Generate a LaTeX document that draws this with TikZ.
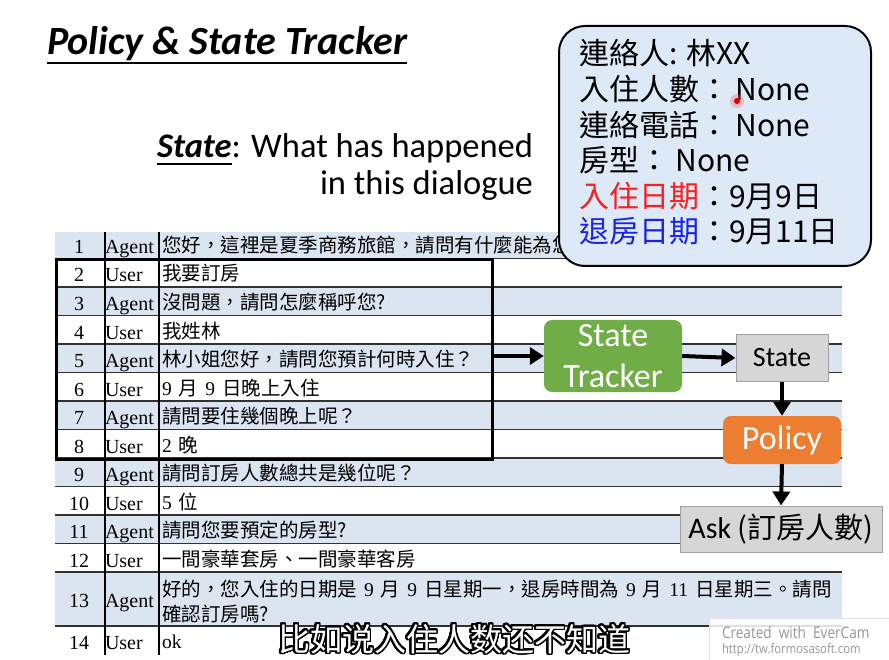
\documentclass[tikz,border=0pt]{standalone}
\usepackage{fontspec}
\setmainfont{Liberation Serif}
\newfontfamily\calibri{Carlito}
\newfontfamily\cjk{Noto Sans CJK TC}
\newfontfamily\cjksc{Noto Sans CJK SC}
\newfontfamily\wmfont{Open Sans}
\usepackage[copies]{contour}
\usetikzlibrary{arrows.meta,calc}

\definecolor{rowblue}{RGB}{219,229,241}
\definecolor{infoblue}{RGB}{221,233,246}
\definecolor{trackgreen}{RGB}{112,173,71}
\definecolor{polorange}{RGB}{237,125,49}
\definecolor{boxgray}{RGB}{214,214,214}
\definecolor{boxedge}{RGB}{160,160,160}
\definecolor{gridline}{RGB}{50,50,50}
\definecolor{slotred}{RGB}{250,30,30}
\definecolor{slotblue}{RGB}{25,35,225}
\definecolor{wmgray}{RGB}{150,150,150}

\newcommand\fsz[2]{\fontsize{#1pt}{#2pt}\selectfont}
\newcommand\lat[1]{{\rmfamily #1}}
\newcommand\gap{\hspace{7pt}}

% one dialogue row: number, bottom edge, speaker, utterance
\newcommand\tablerow[4]{%
  \node[numtxt] (num#1) at (79,{#2-5}) {#1};
  \node[roletxt] (role#1) at (105,{#2-5}) {#3};
  \node[celltxt] (cell#1) at (162,{#2-6}) {#4};}

\contourlength{1.8pt}
\contournumber{32}

\begin{document}
\begin{tikzpicture}[x=1pt, y=-1pt,
  textnode/.style={inner sep=0pt, outer sep=0pt},
  numtxt/.style={textnode, anchor=base, font=\rmfamily\fsz{20}{24}},
  roletxt/.style={textnode, anchor=base west, font=\rmfamily\fsz{20}{24}},
  celltxt/.style={textnode, anchor=base west, font=\cjk\fsz{19.5}{24}},
  infotxt/.style={textnode, anchor=base west, font=\cjk\fsz{30}{34}},
  flow/.style={line width=4pt, -{Triangle[length=14pt,width=17pt]}},
  grayblock/.style={draw=boxedge, line width=1pt, fill=boxgray, inner sep=0pt,
    font=\calibri\fsz{28}{32}},
  colorblock/.style={rounded corners=8pt, inner sep=0pt, text=white,
    font=\calibri\fsz{34}{41}, align=center}]

\useasboundingbox (0,0) rectangle (889,660);
\fill[white] (0,0) rectangle (889,660);

% ---------- heading ----------
\node[textnode, anchor=base west, font=\calibri\bfseries\itshape\fsz{40}{44}] (title) at (47,55) {Policy \& State Tracker};
\draw[line width=1.4pt] ($(title.base west)+(0,8)$) -- ($(title.base east)+(0,8)$);

\node[textnode, anchor=base east, font=\calibri\fsz{34.5}{40}] (def1) at (533,158) {: What has happened};
\node[textnode, anchor=base east, font=\calibri\bfseries\itshape\fsz{34.5}{40}] (defkey) at (def1.base west) {State};
\draw[line width=1.4pt] ($(defkey.base west)+(0,6)$) -- ($(defkey.base east)+(0,6)$);
\node[textnode, anchor=base east, font=\calibri\fsz{34.5}{40}] (def2) at (533,195) {in this dialogue};

% ---------- dialogue table ----------
\foreach \t/\b in {232/258.5, 287/315.5, 344/372.5, 401/429.5, 458/486.5, 515/543.5, 572/626}
  \fill[rowblue] (55,\t) rectangle (842,\b);
\foreach \y in {258.5, 287, 315.5, 344, 372.5, 401, 429.5, 458, 486.5, 515, 543.5, 572, 626}
  \draw[gridline, line width=1.2pt] (55,\y) -- (842,\y);
\foreach \x in {105, 159}
  \draw[black, line width=1.3pt] (\x,232) -- (\x,655);

\tablerow{1}{258.5}{Agent}{您好，這裡是夏季商務旅館，請問有什麼能為您}
\tablerow{2}{287}{User}{我要訂房}
\tablerow{3}{315.5}{Agent}{沒問題，請問怎麼稱呼您?}
\tablerow{4}{344}{User}{我姓林}
\tablerow{5}{372.5}{Agent}{林小姐您好，請問您預計何時入住？}
\tablerow{6}{401}{User}{\lat{9}\gap 月\gap\lat{9}\gap 日晚上入住}
\tablerow{7}{429.5}{Agent}{請問要住幾個晚上呢？}
\tablerow{8}{458}{User}{\lat{2}\gap 晚}
\tablerow{9}{486.5}{Agent}{請問訂房人數總共是幾位呢？}
\tablerow{10}{515}{User}{\lat{5}\gap 位}
\tablerow{11}{543.5}{Agent}{請問您要預定的房型?}
\tablerow{12}{572}{User}{一間豪華套房、一間豪華客房}
\node[numtxt] (num13) at (79,607) {13};
\node[roletxt] (role13) at (105,607) {Agent};
\node[celltxt] (cell13a) at (162,596) {好的，您入住的日期是\gap\lat{9}\gap 月\gap\lat{9}\gap 日星期一，退房時間為\gap\lat{9}\gap 月\gap\lat{11}\gap 日星期三。請問};
\node[celltxt] (cell13b) at (162,621) {確認訂房嗎?};
\tablerow{14}{654}{User}{\lat{ok}}

% turns 2-8 grouped as the dialogue so far
\node[draw, line width=3pt, anchor=north west, minimum width=436pt, minimum height=199pt, inner sep=0pt] (ctx) at (55,258.5) {};

% ---------- pipeline ----------
\node[colorblock, fill=trackgreen, minimum width=138pt, minimum height=72pt] (tracker) at (613,356) {State\\Tracker};
\node[grayblock, minimum width=92pt, minimum height=46pt] (state) at (782,358) {State};
\node[colorblock, fill=polorange, minimum width=118pt, minimum height=48pt] (policy) at (782,440) {Policy};
\node[grayblock, minimum width=202pt, minimum height=46pt, font=\calibri\fsz{30}{32}] (ask) at (781,529) {Ask \cjk\fsz{29}{32}(訂房人數)};

\draw[flow] (ctx.east |- tracker.west) -- (tracker.west);
\draw[flow] (tracker.east) -- (state.west);
\draw[flow] (state.south) -- (policy.north);
\draw[flow] (policy.south) -- (ask.north);

% ---------- tracked slots ----------
\node[draw=black, line width=2pt, fill=infoblue, rounded corners=26pt, anchor=north west,
      minimum width=312pt, minimum height=240pt, inner sep=0pt] (info) at (558,25) {};
\node[infotxt] (slot1) at (579,65) {連絡人: 林XX};
\node[infotxt] (slot2) at (579,100.6) {入住人數： None};
\node[infotxt] (slot3) at (579,136.2) {連絡電話： None};
\node[infotxt] (slot4) at (579,171.8) {房型： None};
\node[infotxt] (slot5) at (579,207.4) {\textcolor{slotred}{入住日期}：9月9日};
\node[infotxt] (slot6) at (579,243) {\textcolor{slotblue}{退房日期}：9月11日};

% pointer dot
\fill[red!60, opacity=0.35] (737,101) circle (7pt);
\fill[red!85!black] (737,101) circle (3pt);

% ---------- caption and watermark ----------
\node[textnode, anchor=base, text=white, font=\cjksc\fsz{32}{36}] (caption) at (454,651) {\contour{black}{比如说入住人数还不知道}};

\node[draw=white!88!black, fill=white, fill opacity=0.85, anchor=north west,
      minimum width=185pt, minimum height=45pt, inner sep=0pt] (mark) at (709,618) {};
\node[textnode, anchor=base west, text=wmgray, font=\wmfont\fsz{16}{18}] (mark1) at (722,638) {\scalebox{0.85}[1]{Created\ \ with\ \ EverCam}};
\node[textnode, anchor=base west, text=wmgray, font=\wmfont\fsz{13}{15}] (mark2) at (722,653) {\scalebox{0.87}[1]{http://tw.formosasoft.com}};

\end{tikzpicture}
\end{document}
